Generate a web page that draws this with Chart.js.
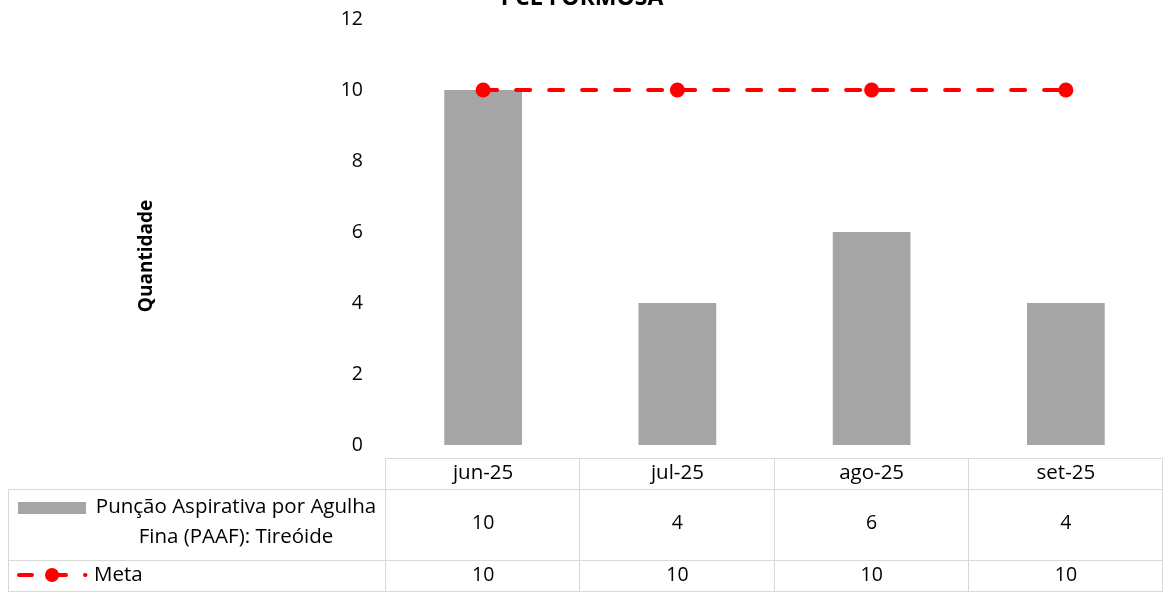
<!DOCTYPE html>
<html>
<head>
<meta charset="utf-8">
<script src="https://cdn.jsdelivr.net/npm/chart.js@4"></script>
<style>
  html, body { margin: 0; padding: 0; background: #fff; overflow: hidden; }
  #wrap { width: 1164px; height: 592px; position: relative; }
</style>
</head>
<body>
<div id="wrap"><canvas id="myChart"></canvas></div>
<script>
// chart data
var months = ["jun-25", "jul-25", "ago-25", "set-25"];
var paafValues = [10, 4, 6, 4];
var metaValues = [10, 10, 10, 10];
var yTicks = [0, 2, 4, 6, 8, 10, 12];

var seriesNames = ["Punção Aspirativa por Agulha", "Fina (PAAF): Tireóide"];
var metaName = "Meta";
var chartTitle = "PCL FORMOSA";
var yTitle = "Quantidade";

var FONT = "'Open Sans', Lato, sans-serif";
var GRID = "#d9d9d9";

// draws the title, the y title and the data table under the plot
var tablePlugin = {
    id: "dataTable",
    afterDraw: function (chart) {
        var ctx = chart.ctx;
        var x = chart.scales.x;
        var area = chart.chartArea;
        var left = area.left, right = area.right;
        var legLeft = 8;
        var rowTop = [458, 489, 560, 591];
        var step = (right - left) / months.length;

        ctx.save();
        // title, clipped at the top like in the picture
        ctx.fillStyle = "#000";
        ctx.font = "bold 23px " + FONT;
        ctx.textAlign = "center";
        ctx.textBaseline = "alphabetic";
        ctx.fillText(chartTitle, 582, 5);

        // y axis title
        ctx.save();
        ctx.translate(152, 256);
        ctx.rotate(-Math.PI / 2);
        ctx.font = "bold 19px " + FONT;
        ctx.fillText(yTitle, 0, 0);
        ctx.restore();

        ctx.textBaseline = "middle";
        // grid lines of the table
        ctx.strokeStyle = GRID;
        ctx.lineWidth = 1;
        ctx.beginPath();
        ctx.moveTo(left, rowTop[0] + 0.5); ctx.lineTo(right, rowTop[0] + 0.5);
        for (var r = 1; r < rowTop.length; r++) {
            ctx.moveTo(legLeft, rowTop[r] + 0.5); ctx.lineTo(right, rowTop[r] + 0.5);
        }
        ctx.moveTo(legLeft + 0.5, rowTop[1]); ctx.lineTo(legLeft + 0.5, rowTop[3]);
        for (var c = 0; c <= months.length; c++) {
            var cx = Math.round(left + c * step) - 0.5;
            ctx.moveTo(cx, rowTop[0]); ctx.lineTo(cx, rowTop[3]);
        }
        ctx.stroke();

        // header + values
        ctx.fillStyle = "#000";
        for (var i = 0; i < months.length; i++) {
            var px = x.getPixelForValue(i);
            ctx.font = "20.5px " + FONT;
            ctx.fillText(months[i], px, 473);
            ctx.font = "19.5px " + FONT;
            ctx.fillText(String(paafValues[i]), px, 523);
            ctx.fillText(String(metaValues[i]), px, 575);
        }

        // legend of the bar series
        ctx.fillStyle = "#a5a5a5";
        ctx.fillRect(18, 502, 68, 12);
        ctx.fillStyle = "#000";
        ctx.font = "20.5px " + FONT;
        ctx.fillText(seriesNames[0], 236, 507);
        ctx.fillText(seriesNames[1], 236, 537);

        // legend of the line series
        ctx.strokeStyle = "#ff0000";
        ctx.lineWidth = 4;
        ctx.lineCap = "round";
        ctx.beginPath();
        ctx.moveTo(19, 575); ctx.lineTo(32, 575);
        ctx.moveTo(52, 575); ctx.lineTo(66, 575);
        ctx.moveTo(85, 575); ctx.lineTo(85.5, 575);
        ctx.stroke();
        ctx.fillStyle = "#ff0000";
        ctx.beginPath();
        ctx.arc(52, 575, 7, 0, Math.PI * 2);
        ctx.fill();
        ctx.fillStyle = "#000";
        ctx.textAlign = "left";
        ctx.fillText(metaName, 94, 575);
        ctx.restore();
    }
};

var ctx1 = document.getElementById("myChart").getContext("2d");
var myChart = new Chart(ctx1, {
    data: {
        labels: months,
        datasets: [
            {
                type: "line",
                label: metaName,
                data: metaValues,
                borderColor: "#ff0000",
                backgroundColor: "#ff0000",
                borderWidth: 4,
                borderDash: [14, 19],
                borderCapStyle: "round",
                pointRadius: 7.5,
                pointHoverRadius: 7.5,
                pointBackgroundColor: "#ff0000",
                pointBorderColor: "#ff1a00",
                pointBorderWidth: 0,
                clip: false,
                order: 0
            },
            {
                type: "bar",
                label: seriesNames.join(" "),
                data: paafValues,
                backgroundColor: "#a5a5a5",
                barPercentage: 0.4,
                categoryPercentage: 1,
                order: 1
            }
        ]
    },
    options: {
        responsive: true,
        maintainAspectRatio: false,
        animation: false,
        layout: { autoPadding: false, padding: { left: 0, right: 1, top: 19, bottom: 147 } },
        plugins: {
            legend: { display: false },
            tooltip: { enabled: false },
            title: { display: false }
        },
        scales: {
            x: {
                display: false,
                offset: true
            },
            y: {
                min: 0,
                max: 12,
                afterBuildTicks: function (scale) {
                    scale.ticks = yTicks.map(function (v) { return { value: v }; });
                },
                afterFit: function (scale) {
                    scale.width = 386;
                    scale.paddingTop = 0;
                    scale.paddingBottom = 0;
                },
                grid: { display: false, drawTicks: false },
                border: { display: false },
                ticks: {
                    color: "#000",
                    padding: 23,
                    font: { family: FONT, size: 19.5 }
                }
            }
        }
    },
    plugins: [tablePlugin]
});
</script>
</body>
</html>
